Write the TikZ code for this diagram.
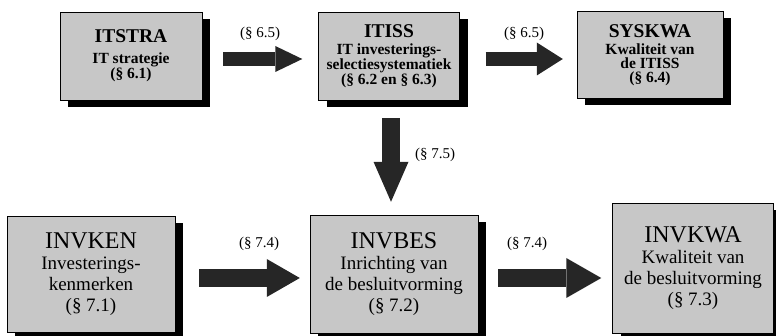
\documentclass[tikz,border=0pt]{standalone}
\usepackage{fontspec}
\setmainfont{Liberation Serif}
\usetikzlibrary{shadows,arrows.meta}

\tikzset{
  box/.style={draw, thin, fill=black!22, align=center, inner sep=2pt,
    drop shadow={shadow xshift=8pt, shadow yshift=-7pt, fill=black, opacity=1}},
  topbox/.style={box, font=\fontsize{15.5}{14}\selectfont\bfseries},
  botbox/.style={box, font=\fontsize{19}{21}\selectfont},
  fatarrow/.style={black!85, line width=#1},
  fatarrow/.default=15pt,
  par/.style={font=\fontsize{15}{15}\selectfont}
}
\newcommand{\toptitle}[1]{{\fontsize{19.5}{20}\selectfont #1}}
\newcommand{\bottitle}[1]{{\fontsize{24}{26}\selectfont #1}}

\begin{document}
\begin{tikzpicture}[x=1pt,y=-1pt]
\useasboundingbox (0,0) rectangle (776,336);
% top row
\node[topbox, minimum width=142pt, minimum height=88pt] (itstra) at (131,56)
  {\toptitle{ITSTRA}\\[7pt] IT strategie\\(§ 6.1)};
\node[topbox, minimum width=141pt, minimum height=88pt] (itiss) at (389,56)
  {\toptitle{ITISS}\\[3pt] IT investerings-\\selectiesystematiek\\(§ 6.2 en § 6.3)};
\node[topbox, minimum width=146pt, minimum height=87pt] (syskwa) at (650,55)
  {\toptitle{SYSKWA}\\[3pt] Kwaliteit van\\de ITISS\\(§ 6.4)};
% bottom row
\node[botbox, minimum width=168pt, minimum height=116pt] (invken) at (91,274)
  {\bottitle{INVKEN}\\ Investerings-\\kenmerken\\(§ 7.1)};
\node[botbox, minimum width=168pt, minimum height=118pt] (invbes) at (394,274)
  {\bottitle{INVBES}\\ Inrichting van\\de besluitvorming\\(§ 7.2)};
\node[botbox, minimum width=161pt, minimum height=130pt] (invkwa) at (693,268)
  {\bottitle{INVKWA}\\ Kwaliteit van\\de besluitvorming\\(§ 7.3)};

% arrows
\coordinate (a1) at ([yshift=-3pt]itstra.east);
\coordinate (a2) at ([yshift=-3pt]itiss.east);
\coordinate (a3) at ([yshift=-4pt]invken.east);
\coordinate (a4) at ([yshift=-4pt]invbes.east);
\draw[fatarrow=14pt, -{Triangle[length=27pt,width=26pt,line width=0pt]},
  shorten <=21pt, shorten >=16pt] (a1) -- (a1 -| itiss.west);
\draw[fatarrow=14pt, -{Triangle[length=26pt,width=33pt,line width=0pt]},
  shorten <=26pt, shorten >=14pt] (a2) -- (a2 -| syskwa.west);
\draw[fatarrow=18pt, -{Triangle[length=40pt,width=35pt,line width=0pt]},
  shorten <=18pt, shorten >=13pt] ([xshift=2pt]itiss.south) -- ([xshift=2pt]itiss.south |- invbes.north);
\draw[fatarrow=18pt, -{Triangle[length=33pt,width=38pt,line width=0pt]},
  shorten <=24pt, shorten >=10pt] (a3) -- (a3 -| invbes.west);
\draw[fatarrow=18pt, -{Triangle[length=35pt,width=40pt,line width=0pt]},
  shorten <=20pt, shorten >=11pt] (a4) -- (a4 -| invkwa.west);

% labels
\node[par] (l65a) at (260,34) {(§ 6.5)};
\node[par] (l65b) at (524,34) {(§ 6.5)};
\node[par] (l75) at (435,155) {(§ 7.5)};
\node[par] (l74a) at (259,244) {(§ 7.4)};
\node[par] (l74b) at (527,244) {(§ 7.4)};
\end{tikzpicture}
\end{document}
